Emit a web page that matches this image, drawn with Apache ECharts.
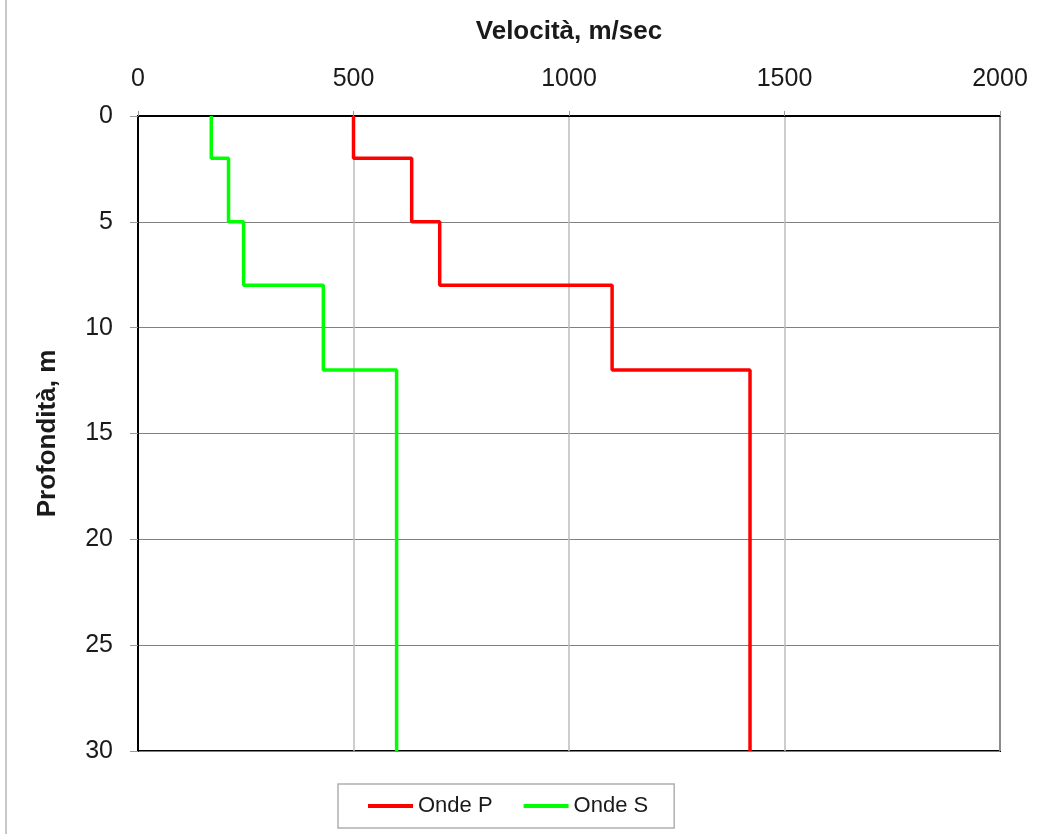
<!DOCTYPE html>
<html>
<head>
<meta charset="utf-8">
<title>Velocità onde P e S</title>
<script src="https://cdn.jsdelivr.net/npm/echarts@6/dist/echarts.min.js"></script>
<style>
  html, body { margin: 0; padding: 0; background: #fff; }
  #edge { position: absolute; left: 5px; top: 0; width: 2px; height: 834px; background: #c8c8c8; }
  #chart { width: 1055px; height: 834px; }
</style>
</head>
<body>
<div id="edge"></div>
<div id="chart"></div>
<script>
  // strati: profondità di tetto (m), ultimo strato fino a 30 m
  const layerTops = [0, 2, 5, 8, 12]
  const bottomDepth = 30
  const vpValues = [500, 635, 700, 1100, 1420]   // Onde P, m/sec
  const vsValues = [170, 210, 245, 430, 600]     // Onde S, m/sec
  const xTicks = [0, 500, 1000, 1500, 2000]
  const yTicks = [0, 5, 10, 15, 20, 25, 30]

  // profilo a gradini: ogni strato diventa un segmento verticale
  function profile (vel) {
    const pts = []
    vel.forEach((v, i) => {
      const top = layerTops[i]
      const bot = i + 1 < layerTops.length ? layerTops[i + 1] : bottomDepth
      pts.push([v, top], [v, bot])
    })
    return pts
  }

  const chart = echarts.init(document.getElementById('chart'))
  const font = 'Arial, "Liberation Sans", sans-serif'
  const txt = '#1a1a1a'

  chart.setOption({
    animation: false,
    textStyle: { fontFamily: font },
    grid: {
      left: 138,
      right: 55,
      top: 116,
      bottom: 83,
      show: true,
      borderColor: '#000',
      borderWidth: 2
    },
    legend: {
      data: [
        { name: 'Onde P', icon: 'rect' },
        { name: 'Onde S', icon: 'rect' }
      ],
      left: 338,
      top: 784,
      orient: 'horizontal',
      itemWidth: 45,
      itemHeight: 4,
      itemGap: 31,
      padding: [11, 26, 11, 30],
      borderColor: '#b0b0b0',
      borderWidth: 1.5,
      textStyle: { fontSize: 22, color: txt }
    },
    xAxis: {
      type: 'value',
      position: 'top',
      min: xTicks[0],
      max: xTicks[xTicks.length - 1],
      interval: 500,
      name: 'Velocità, m/sec',
      nameLocation: 'middle',
      nameGap: 71,
      nameTextStyle: { fontSize: 26, fontWeight: 'bold', color: txt },
      axisLine: { show: true, lineStyle: { color: '#000', width: 2 } },
      axisTick: { show: true, length: 5, lineStyle: { color: '#999' } },
      axisLabel: { fontSize: 25, color: txt, margin: 24, formatter: v => String(v) },
      splitLine: { show: true, lineStyle: { color: '#bdbdbd', width: 1.5 } }
    },
    yAxis: {
      type: 'value',
      inverse: true,
      min: yTicks[0],
      max: yTicks[yTicks.length - 1],
      interval: 5,
      name: 'Profondità, m',
      nameLocation: 'middle',
      nameGap: 77,
      nameRotate: 90,
      nameTextStyle: { fontSize: 26, fontWeight: 'bold', color: txt },
      axisLine: { show: true, lineStyle: { color: '#000', width: 2 } },
      axisTick: { show: true, length: 8, lineStyle: { color: '#999' } },
      axisLabel: { fontSize: 25, color: txt, margin: 25 },
      splitLine: { show: true, lineStyle: { color: '#808080', width: 1 } }
    },
    series: [
      {
        name: 'Onde P',
        type: 'line',
        data: profile(vpValues),
        symbol: 'none',
        lineStyle: { color: '#ff0000', width: 3.5 },
        itemStyle: { color: '#ff0000' }
      },
      {
        name: 'Onde S',
        type: 'line',
        data: profile(vsValues),
        symbol: 'none',
        lineStyle: { color: '#00ff00', width: 3.5 },
        itemStyle: { color: '#00ff00' }
      }
    ]
  })
</script>
</body>
</html>
